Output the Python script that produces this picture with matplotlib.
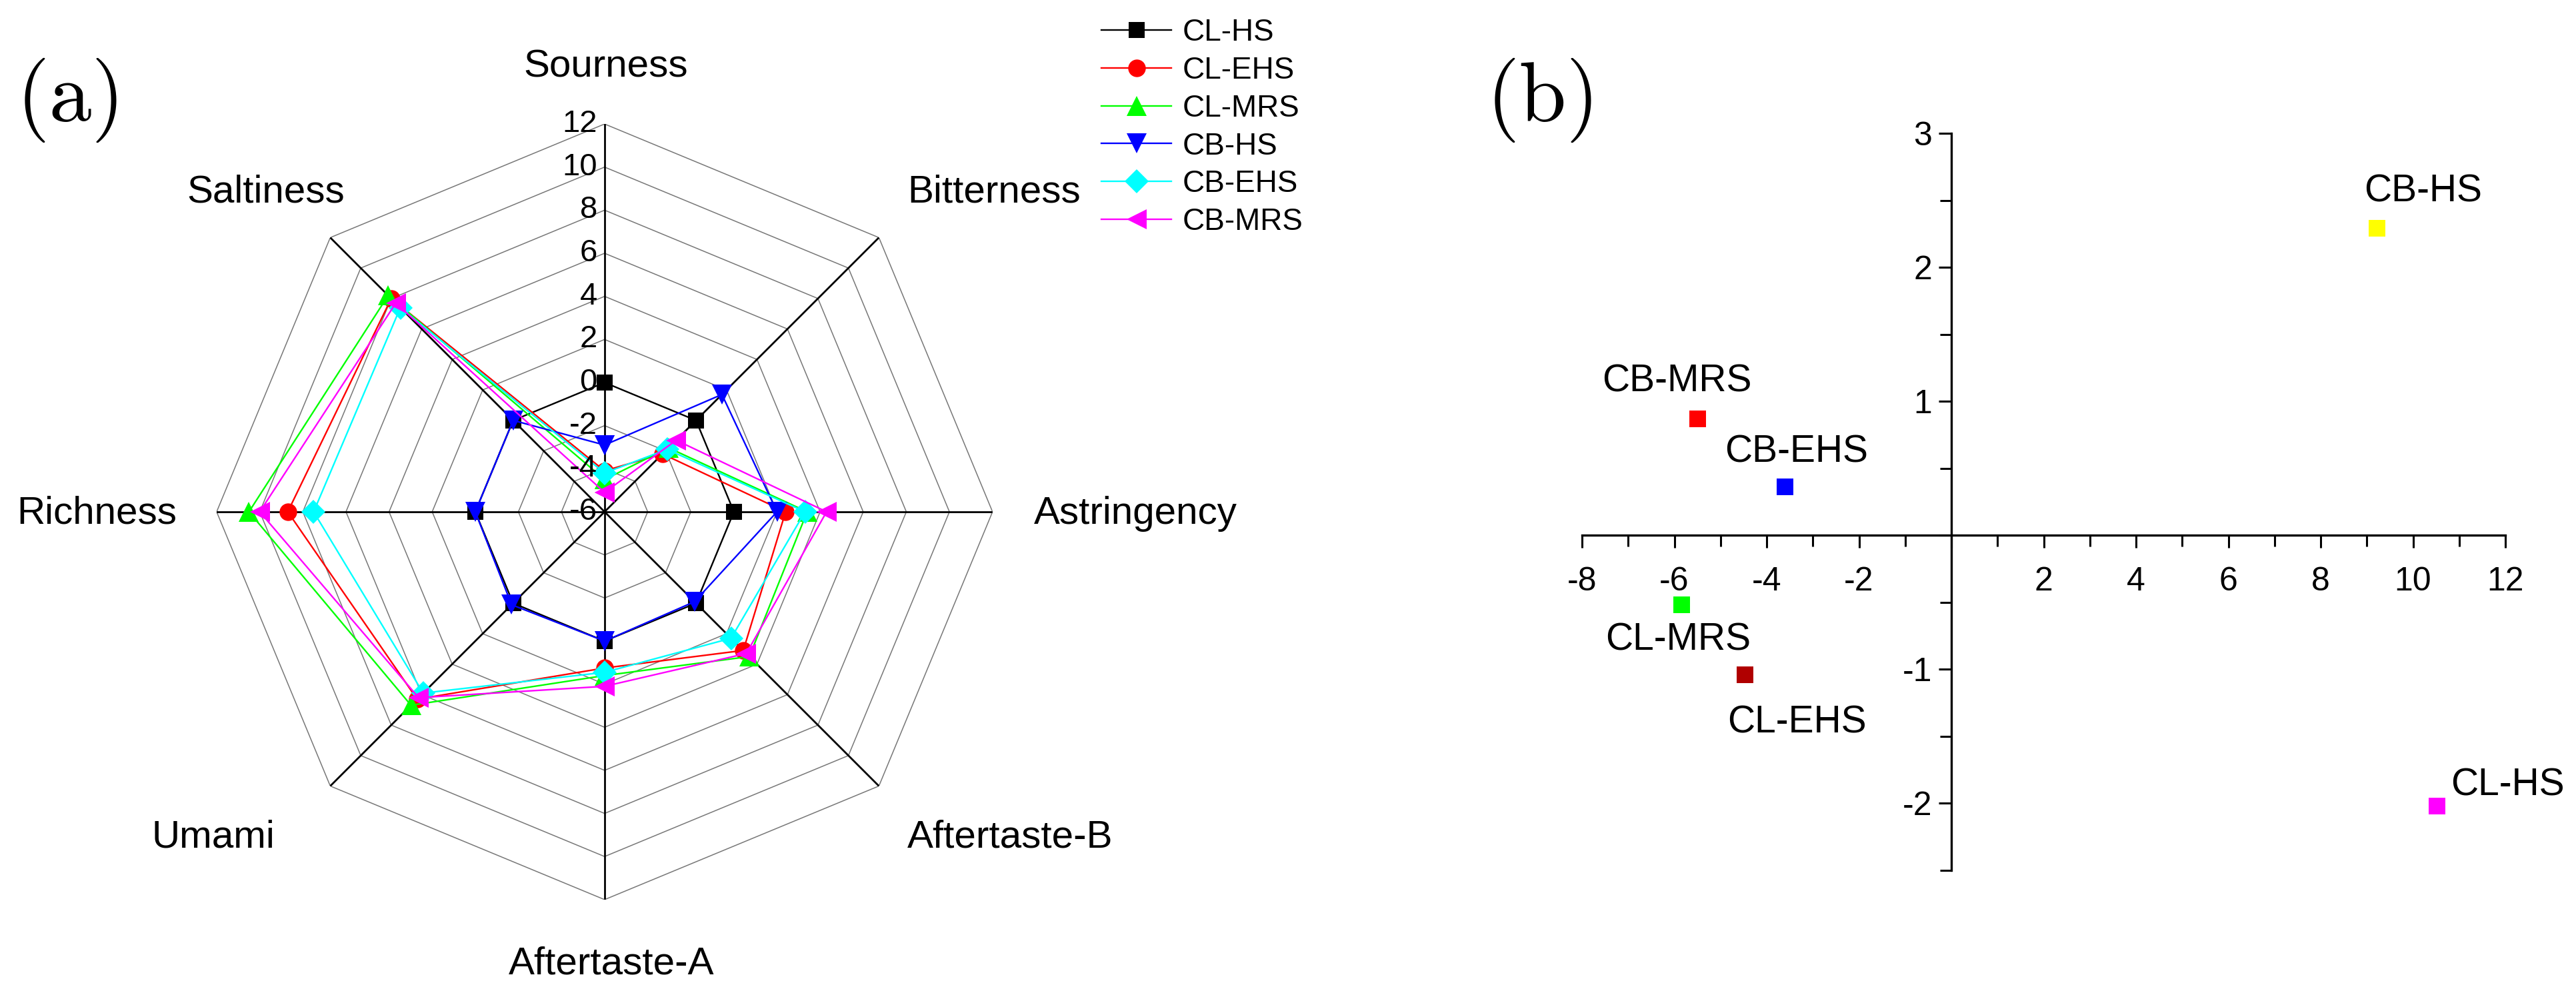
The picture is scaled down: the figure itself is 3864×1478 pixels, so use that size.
import numpy as np
import matplotlib
matplotlib.use("Agg")
import matplotlib.pyplot as plt
from matplotlib.ticker import MultipleLocator, FuncFormatter

plt.rcParams["font.family"] = ["Liberation Sans", "DejaVu Sans"]
plt.rcParams["axes.unicode_minus"] = False

# ------------------------------------------------------------------ #
#  (a) electronic tongue radar data
# ------------------------------------------------------------------ #
ATTRIBUTES = ["Sourness", "Bitterness", "Astringency", "Aftertaste-B",
              "Aftertaste-A", "Umami", "Richness", "Saltiness"]
SAMPLES = ["CL-HS", "CL-EHS", "CL-MRS", "CB-HS", "CB-EHS", "CB-MRS"]

cl_hs = [0.0, 0.0, 0.0, 0.0, 0.0, 0.0, 0.0, 0.0]
cl_ehs = [-4.1, -2.2, 2.4, 3.1, 1.25, 6.3, 8.7, 8.0]
cl_mrs = [-4.5, -1.8, 3.4, 3.5, 1.6, 6.7, 10.5, 8.2]
cb_hs = [-2.9, 1.7, 2.0, -0.1, 0.0, 0.1, 0.0, 0.0]
cb_ehs = [-4.2, -1.9, 3.3, 2.3, 1.45, 5.9, 7.5, 7.4]
cb_mrs = [-5.1, -1.3, 4.3, 3.3, 2.1, 6.2, 10.0, 7.7]

RADAR_TICKS = [-6, -4, -2, 0, 2, 4, 6, 8, 10, 12]

# ------------------------------------------------------------------ #
#  (b) PCA score plot
# ------------------------------------------------------------------ #
PCA_NAMES = ["CB-HS", "CB-MRS", "CB-EHS", "CL-MRS", "CL-EHS", "CL-HS"]
pc1 = [9.22, -5.5, -3.6, -5.84, -4.47, 10.52]
pc2 = [2.29, 0.87, 0.36, -0.52, -1.04, -2.02]

# ------------------------------------------------------------------ #
#  styles / layout
# ------------------------------------------------------------------ #
W, H, DPI = 3864, 1478, 200
RADAR_STYLE = {
    "CL-HS": ("black", "s", 8.5),
    "CL-EHS": ("red", "o", 9.5),
    "CL-MRS": ("#00ff00", "^", 10.5),
    "CB-HS": ("blue", "v", 10.5),
    "CB-EHS": ("cyan", "D", 9.0),
    "CB-MRS": ("magenta", "<", 10.5),
}
# label centres in pixels (x, y from top)
LABEL_PX = [(909, 101), (1491, 288), (1703, 771), (1515, 1257),
            (917, 1446), (320, 1257), (145, 771), (399, 288)]
PCA_COLORS = ["#ffff00", "#ff0000", "#0000ff", "#00ff00", "#b00000", "#ff00ff"]
PCA_OFFSETS = [(25, 20), (-11, 20), (6, 19), (-2, -19), (28, -26), (38, 11)]

fig = plt.figure(figsize=(W / DPI, H / DPI), dpi=DPI)

# ---------------- radar ----------------
ax = fig.add_axes([0.0841, 0.0866, 0.3012, 0.7876], projection="polar")
ax.set_theta_zero_location("N")
ax.set_theta_direction(-1)
ax.set_ylim(RADAR_TICKS[0], RADAR_TICKS[-1])
ax.grid(False)
ax.set_xticks([])
ax.set_yticks([])
ax.spines["polar"].set_visible(False)

n = len(ATTRIBUTES)
theta = np.arange(n) * 2 * np.pi / n
theta_c = np.append(theta, theta[0])

for lvl in RADAR_TICKS[1:]:
    ax.plot(theta_c, [lvl] * (n + 1), color="#777777", lw=0.55, zorder=1)
for t in theta:
    ax.plot([t, t], [RADAR_TICKS[0], RADAR_TICKS[-1]], color="black",
            lw=1.0, zorder=2)

series = [cl_hs, cl_ehs, cl_mrs, cb_hs, cb_ehs, cb_mrs]
for name, vals in zip(SAMPLES, series):
    color, marker, ms = RADAR_STYLE[name]
    v = np.append(vals, vals[0])
    ax.plot(theta_c, v, color=color, lw=0.85, marker=marker, ms=ms,
            markeredgewidth=0, label=name, zorder=3, clip_on=False)

for v in RADAR_TICKS:
    ax.annotate(str(v), xy=(0, v), xytext=(-4, 0), textcoords="offset points",
                ha="right", va="center", fontsize=17, zorder=4)

for lab, (px, py) in zip(ATTRIBUTES, LABEL_PX):
    fig.text(px / W, 1 - py / H, lab, fontsize=21, ha="center", va="center")

fig.legend(loc="upper left", bbox_to_anchor=(1652 / W, 1 - 27 / H),
           bbox_transform=fig.transFigure, frameon=False, fontsize=16.5,
           handlelength=2.3, handletextpad=0.35, labelspacing=0.28,
           borderpad=0, borderaxespad=0, numpoints=1)

# ---------------- PCA scatter ----------------
x0, x1, ytop, ybot = 2373, 3758, 200, 1306
ax2 = fig.add_axes([x0 / W, 1 - ybot / H, (x1 - x0) / W, (ybot - ytop) / H])
ax2.set_xlim(-8, 12)
ax2.set_ylim(-2.5, 3)
for s in ("top", "right"):
    ax2.spines[s].set_visible(False)
ax2.spines["left"].set_position(("data", 0))
ax2.spines["bottom"].set_position(("data", 0))
for s in ("left", "bottom"):
    ax2.spines[s].set_linewidth(1.2)

hide_zero = FuncFormatter(lambda v, p: "" if abs(v) < 1e-9 else f"{v:g}")
ax2.xaxis.set_major_locator(MultipleLocator(2))
ax2.xaxis.set_minor_locator(MultipleLocator(1))
ax2.yaxis.set_major_locator(MultipleLocator(1))
ax2.yaxis.set_minor_locator(MultipleLocator(0.5))
ax2.xaxis.set_major_formatter(hide_zero)
ax2.yaxis.set_major_formatter(hide_zero)
ax2.tick_params(which="both", direction="out", width=1.1, labelsize=18)
ax2.tick_params(which="major", length=7)
ax2.tick_params(which="minor", length=6)
ax2.tick_params(axis="x", pad=10)

ax2.scatter(pc1, pc2, c=PCA_COLORS, marker="s", s=80, linewidths=0,
            zorder=3, clip_on=False)
for name, x, y, off in zip(PCA_NAMES, pc1, pc2, PCA_OFFSETS):
    ax2.annotate(name, xy=(x, y), xytext=off, textcoords="offset points",
                 ha="center", va="center", fontsize=20.5)

# panel labels
fig.text(25 / W, 1 - 150 / H, "(a)", fontfamily="cmr10", fontsize=46,
         ha="left", va="center")
fig.text(2230 / W, 1 - 150 / H, "(b)", fontfamily="cmr10", fontsize=46,
         ha="left", va="center")

fig.savefig("out.png", dpi=DPI)
